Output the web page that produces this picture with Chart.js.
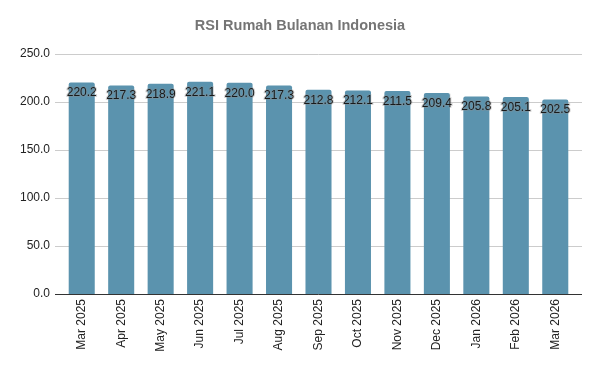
<!DOCTYPE html>
<html>
<head>
<meta charset="utf-8">
<script src="https://cdn.jsdelivr.net/npm/chart.js@4.4.1/dist/chart.umd.min.js"></script>
<style>
  html, body { margin: 0; padding: 0; background: #fff; }
  #wrap { width: 600px; height: 371px; }
</style>
</head>
<body>
<div id="wrap"><canvas id="c" width="600" height="371"></canvas></div>
<script>
// data
const chartTitle = 'RSI Rumah Bulanan Indonesia';
const months = ['Mar 2025', 'Apr 2025', 'May 2025', 'Jun 2025', 'Jul 2025', 'Aug 2025',
  'Sep 2025', 'Oct 2025', 'Nov 2025', 'Dec 2025', 'Jan 2026', 'Feb 2026', 'Mar 2026'];
const rsiValues = [220.2, 217.3, 218.9, 221.1, 220.0, 217.3, 212.8, 212.1, 211.5, 209.4, 205.8, 205.1, 202.5];
const yTicks = [0, 50, 100, 150, 200, 250];

const barColor = '#5b93ae';
const fontFamily = "Arial, 'Liberation Sans', sans-serif";
const gridOverhang = 7; // sheet grid runs a bit past the outer bars

// title centred on the whole canvas, not on the padded layout
const pageTitle = {
  id: 'pageTitle',
  afterDraw(chart) {
    const ctx = chart.ctx;
    ctx.save();
    ctx.font = 'bold 14.5px ' + fontFamily;
    ctx.fillStyle = '#757575';
    ctx.textAlign = 'center';
    ctx.textBaseline = 'middle';
    ctx.fillText(chartTitle, chart.width / 2, 26);
    ctx.restore();
  }
};

// grid + baseline drawn a little wider than the category area
const wideGrid = {
  id: 'wideGrid',
  beforeDatasetsDraw(chart) {
    const { ctx, chartArea, scales } = chart;
    const x0 = chartArea.left - gridOverhang;
    const x1 = chartArea.right + gridOverhang;
    ctx.save();
    yTicks.forEach((v) => {
      const y = Math.round(scales.y.getPixelForValue(v)) + 0.5;
      ctx.strokeStyle = '#cccccc';
      ctx.lineWidth = 1;
      ctx.beginPath();
      ctx.moveTo(x0, y);
      ctx.lineTo(x1, y);
      ctx.stroke();
    });
    ctx.restore();
  },
  afterDatasetsDraw(chart) {
    const { ctx, chartArea, scales } = chart;
    const y = Math.round(scales.y.getPixelForValue(0)) + 0.5;
    ctx.save();
    ctx.strokeStyle = '#333333';
    ctx.lineWidth = 1;
    ctx.beginPath();
    ctx.moveTo(chartArea.left - gridOverhang, y);
    ctx.lineTo(chartArea.right + gridOverhang, y);
    ctx.stroke();
    ctx.restore();
  }
};

// labels drawn on top of each bar, like the sheet export
const barLabels = {
  id: 'barLabels',
  afterDatasetsDraw(chart) {
    const ctx = chart.ctx;
    const meta = chart.getDatasetMeta(0);
    ctx.save();
    ctx.font = '12px ' + fontFamily;
    ctx.textAlign = 'center';
    ctx.textBaseline = 'middle';
    meta.data.forEach((bar, i) => {
      const txt = rsiValues[i].toFixed(1);
      const y = bar.y + 10.5;
      ctx.lineWidth = 2;
      ctx.strokeStyle = 'rgba(140,140,140,0.35)';
      ctx.strokeText(txt, bar.x, y);
      ctx.fillStyle = '#1a1a1a';
      ctx.fillText(txt, bar.x, y);
    });
    ctx.restore();
  }
};

new Chart(document.getElementById('c'), {
  type: 'bar',
  data: {
    labels: months,
    datasets: [{
      data: rsiValues,
      backgroundColor: barColor,
      borderRadius: { topLeft: 2, topRight: 2 },
      borderSkipped: 'bottom',
      categoryPercentage: 0.66,
      barPercentage: 1.0,
    }],
  },
  options: {
    responsive: false,
    animation: false,
    layout: { padding: { left: 0, right: 25, top: 54, bottom: 0 } },
    plugins: {
      legend: { display: false },
      tooltip: { enabled: false },
      title: { display: false },
    },
    scales: {
      x: {
        grid: { display: false, drawTicks: false },
        border: { display: false },
        ticks: {
          color: '#222222',
          font: { family: fontFamily, size: 12 },
          maxRotation: 90,
          minRotation: 90,
          autoSkip: false,
          padding: 5,
        },
        afterFit(scale) { scale.height = 77; },
      },
      y: {
        min: 0,
        max: 250,
        afterBuildTicks(scale) { scale.ticks = yTicks.map(v => ({ value: v })); },
        grid: { display: false, drawTicks: false },
        border: { display: false },
        ticks: {
          color: '#222222',
          font: { family: fontFamily, size: 12 },
          padding: 12,
          callback: (v) => Number(v).toFixed(1),
        },
        afterFit(scale) { scale.width = 62; },
      },
    },
  },
  plugins: [wideGrid, barLabels, pageTitle],
});
</script>
</body>
</html>
